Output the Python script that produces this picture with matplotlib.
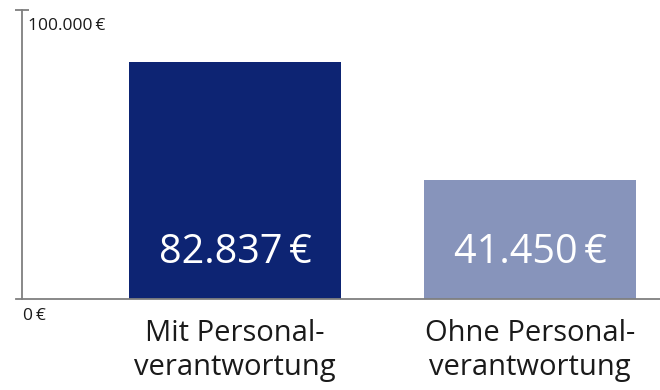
import matplotlib
matplotlib.use("Agg")
import matplotlib.pyplot as plt

plt.rcParams['font.family'] = ['Open Sans', 'DejaVu Sans']

# Data
categories = ["Mit Personal-\nverantwortung", "Ohne Personal-\nverantwortung"]
values = [82837, 41450]
value_labels = ["82.837\u2009€", "41.450\u2009€"]
bar_colors = ["#0d2473", "#8794bb"]
axis_max = 100000
tick_labels = ["0\u2009€", "100.000\u2009€"]

W, H = 660, 390
fig = plt.figure(figsize=(W / 100, H / 100), dpi=100)
ax = fig.add_axes([0, 0, 1, 1])

# Layout helpers: pixel positions -> data coordinates
X0, DX = 235.0, 295.0          # centre of first bar, spacing between bars
Y0, DY = 299.0, 286.0          # baseline pixel, pixels per axis_max


def xd(px):
    return (px - X0) / DX


def yd(py):
    return (Y0 - py) / DY * axis_max


ax.set_xlim(xd(0), xd(W))
ax.set_ylim(yd(H), yd(0))

x = list(range(len(values)))
ax.bar(x, values, width=212 / DX, color=bar_colors, zorder=2)

# Axis lines
axis_color = "#7f7f7f"
for s in ("top", "right"):
    ax.spines[s].set_visible(False)
ax.spines["left"].set_position(("data", xd(22)))
ax.spines["left"].set_bounds(0, yd(10))
ax.spines["bottom"].set_position(("data", 0))
ax.spines["bottom"].set_bounds(xd(16), xd(W))
for s in ("left", "bottom"):
    ax.spines[s].set_color(axis_color)
    ax.spines[s].set_linewidth(1.3)
    ax.spines[s].set_zorder(3)

ax.set_xticks([])
ax.set_yticks([yd(10)])
ax.set_yticklabels([])
ax.tick_params(axis="y", direction="inout", length=9.5, width=1.3, color=axis_color)

# Axis value labels
ax.text(xd(23), yd(320), tick_labels[0], fontsize=12.5, color="#1a1a1a",
        ha="left", va="baseline")
ax.text(xd(28), yd(29.5), tick_labels[1], fontsize=12.5, color="#1a1a1a",
        ha="left", va="baseline")

# Values inside bars
for xi, lab in zip(x, value_labels):
    ax.text(xi, yd(263), lab, fontsize=28.5, color="white",
            ha="center", va="baseline", zorder=4)

# Category labels below the axis
for xi, cat in zip(x, categories):
    for k, line in enumerate(cat.split("\n")):
        ax.text(xi, yd(341 + 34.5 * k), line, fontsize=21, color="#1a1a1a",
                ha="center", va="baseline")

fig.savefig("out.png", dpi=100)
